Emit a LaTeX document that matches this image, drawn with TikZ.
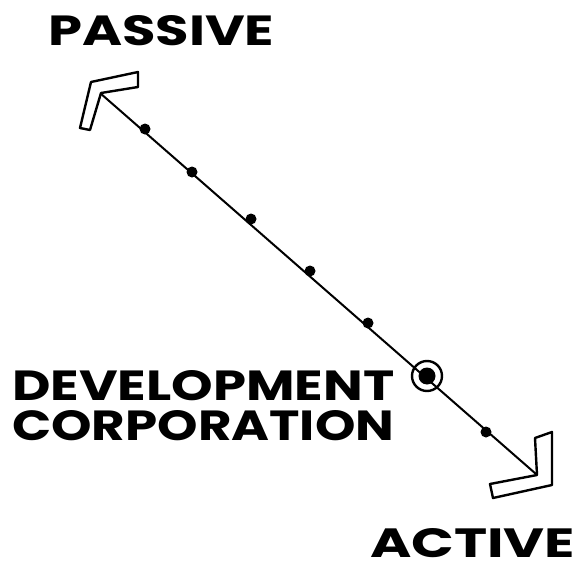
\documentclass[tikz,border=0pt]{standalone}
\usepackage{fontspec}
\setmainfont{Poppins}
\usepackage{graphicx}
\begin{document}
\begin{tikzpicture}[x=1pt,y=-1pt,
  scaleline/.style={line width=2pt,line cap=round},
  chevron/.style={draw,line width=2.4pt,line join=round,fill=white},
  tick/.style={circle,fill=black,inner sep=0pt,minimum size=11pt},
  label/.style={inner sep=0pt,anchor=north west}]
\useasboundingbox (0,0) rectangle (587,570);
% ends of the scale
\coordinate (passive end) at (100,93);
\coordinate (active end) at (536,474);
\draw[scaleline] (passive end) -- (active end);
% hollow arrow heads
\draw[chevron] (91,82) -- (138,72) -- (138,87) -- (101,93) -- (90,130) -- (80,128) -- cycle;
\draw[chevron] (535,438) -- (552,432) -- (552,485) -- (493,498) -- (490,484) -- (537,475) -- cycle;
% steps along the scale
\node[tick] (s1) at (145,129) {};
\node[tick] (s2) at (192,172) {};
\node[tick] (s3) at (251,219) {};
\node[tick] (s4) at (310,271) {};
\node[tick] (s5) at (368,323) {};
\node[tick,minimum size=17pt] (dc) at (427,376) {};
\node[tick] (s7) at (486,432) {};
\draw[line width=2.4pt] (dc) circle[radius=15pt];
% labels
\node[label] (passive) at (48,15) {\resizebox{226pt}{30pt}{\bfseries PASSIVE}};
\node[label] (dev) at (12,370) {\resizebox{382pt}{30pt}{\bfseries DEVELOPMENT}};
\node[label] (corp) at (12,410) {\resizebox{382pt}{30pt}{\bfseries CORPORATION}};
\node[label] (active) at (370,528) {\resizebox{205pt}{29pt}{\bfseries ACTIVE}};
\end{tikzpicture}
\end{document}
